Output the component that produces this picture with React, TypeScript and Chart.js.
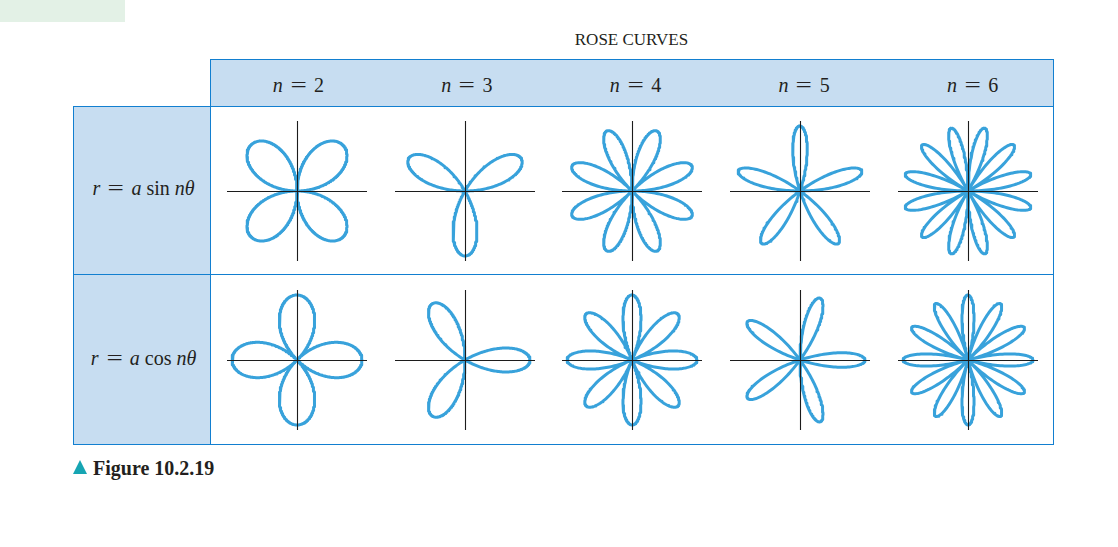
import React, { useEffect, useRef } from "react";
import { Chart, registerables } from "chart.js";

Chart.register(...registerables);

// ---- data ----
const title = "ROSE CURVES";
const nValues = [2, 3, 4, 5, 6];
const trigFunctions = ["sin", "cos"];
const amplitude = 1;
const samplesPerCurve = 900;
const caption = "Figure 10.2.19";

// ---- style / layout ----
const BORDER = "#127fd0";
const FILL = "#c7ddf1";
const CURVE = "#38a2db";
const AXIS = "#1c1c1c";
const SERIF = "'Liberation Serif', 'Times New Roman', serif";
const TABLE_LEFT = 73;
const COL_LEFT = 210;
const TABLE_RIGHT = 1053;
const HEADER_TOP = 59;
const ROW_TOPS = [106, 274];
const TABLE_BOTTOM = 444;
const COL_W = (TABLE_RIGHT - COL_LEFT) / nValues.length;
const AXIS_CX = [297, 464.5, 632, 800, 968];
const AXIS_CY = [191, 359.5];
const HALF = 70;
const EXTENT = 1.077;

function roseData(fn: string, n: number) {
  const pts: { x: number; y: number }[] = [];
  for (let i = 0; i <= samplesPerCurve; i++) {
    const t = (2 * Math.PI * i) / samplesPerCurve;
    const r = amplitude * (fn === "sin" ? Math.sin(n * t) : Math.cos(n * t));
    pts.push({ x: r * Math.cos(t), y: r * Math.sin(t) });
  }
  return pts;
}

const crossAxes = {
  id: "crossAxes",
  afterDatasetsDraw(chart: any) {
    const { ctx, chartArea, scales } = chart;
    const x0 = Math.round(scales.x.getPixelForValue(0)) + 0.5;
    const y0 = Math.round(scales.y.getPixelForValue(0)) + 0.5;
    ctx.save();
    ctx.strokeStyle = AXIS;
    ctx.lineWidth = 1.1;
    ctx.beginPath();
    ctx.moveTo(chartArea.left, y0);
    ctx.lineTo(chartArea.right, y0);
    ctx.moveTo(x0, chartArea.top);
    ctx.lineTo(x0, chartArea.bottom);
    ctx.stroke();
    ctx.restore();
  },
};

function RoseCell({ fn, n, cx, cy }: { fn: string; n: number; cx: number; cy: number }) {
  const ref = useRef<HTMLCanvasElement | null>(null);
  useEffect(() => {
    if (!ref.current) return;
    const chart = new Chart(ref.current, {
      type: "scatter",
      data: {
        datasets: [
          {
            data: roseData(fn, n),
            showLine: true,
            borderColor: CURVE,
            borderWidth: 3,
            pointRadius: 0,
            tension: 0,
            fill: false,
            borderJoinStyle: "round",
            borderCapStyle: "round",
          } as any,
        ],
      },
      options: {
        animation: false,
        responsive: false,
        devicePixelRatio: 1,
        events: [],
        layout: { padding: 0 },
        plugins: { legend: { display: false }, tooltip: { enabled: false }, title: { display: false } },
        scales: {
          x: { type: "linear", min: -EXTENT, max: EXTENT, display: false },
          y: { type: "linear", min: -EXTENT, max: EXTENT, display: false },
        },
      },
      plugins: [crossAxes],
    });
    return () => chart.destroy();
  }, [fn, n]);
  return (
    <canvas
      ref={ref}
      width={HALF * 2}
      height={HALF * 2}
      style={{ position: "absolute", left: cx - HALF, top: cy - HALF, width: HALF * 2, height: HALF * 2 }}
    />
  );
}

function Line({ x, y, w, h }: { x: number; y: number; w: number; h: number }) {
  return <div style={{ position: "absolute", left: x, top: y, width: w, height: h, background: BORDER }} />;
}

function Eq() {
  return (
    <span style={{ display: "inline-block", transform: "scaleX(1.45)", margin: "0 10px 0 10px" }}>=</span>
  );
}

export default function App() {
  const text = (extra: React.CSSProperties): React.CSSProperties => ({
    position: "absolute",
    fontFamily: SERIF,
    lineHeight: 1,
    color: "#231f20",
    whiteSpace: "nowrap",
    ...extra,
  });
  return (
    <div style={{ position: "absolute", left: 0, top: 0, width: 1118, height: 547, background: "#fff", overflow: "hidden" }}>
      <div style={{ position: "absolute", left: 0, top: 0, width: 125, height: 22, background: "#e3f1e6" }} />
      <div style={text({ left: 0, width: 1263, top: 31, fontSize: 17, textAlign: "center" })}>{title}</div>

      {/* fills */}
      <div style={{ position: "absolute", left: COL_LEFT, top: HEADER_TOP, width: TABLE_RIGHT - COL_LEFT, height: ROW_TOPS[0] - HEADER_TOP, background: FILL }} />
      <div style={{ position: "absolute", left: TABLE_LEFT, top: ROW_TOPS[0], width: COL_LEFT - TABLE_LEFT, height: TABLE_BOTTOM - ROW_TOPS[0], background: FILL }} />

      {/* borders */}
      <Line x={COL_LEFT} y={HEADER_TOP} w={TABLE_RIGHT - COL_LEFT + 1} h={1} />
      {ROW_TOPS.map((y) => (
        <Line key={y} x={TABLE_LEFT} y={y} w={TABLE_RIGHT - TABLE_LEFT + 1} h={1} />
      ))}
      <Line x={TABLE_LEFT} y={TABLE_BOTTOM} w={TABLE_RIGHT - TABLE_LEFT + 1} h={1} />
      <Line x={TABLE_LEFT} y={ROW_TOPS[0]} w={1} h={TABLE_BOTTOM - ROW_TOPS[0] + 1} />
      <Line x={COL_LEFT} y={HEADER_TOP} w={1} h={TABLE_BOTTOM - HEADER_TOP + 1} />
      <Line x={TABLE_RIGHT} y={HEADER_TOP} w={1} h={TABLE_BOTTOM - HEADER_TOP + 1} />

      {/* header labels */}
      {nValues.map((n, i) => (
        <div key={n} style={text({ left: COL_LEFT + COL_W * i, width: COL_W, top: 75, fontSize: 20, textAlign: "center", paddingLeft: 4 })}>
          <i>n</i>
          <Eq />
          {n}
        </div>
      ))}

      {/* row labels */}
      {trigFunctions.map((fn, r) => (
        <div key={fn} style={text({ left: TABLE_LEFT, width: COL_LEFT - TABLE_LEFT, top: r === 0 ? 177.5 : 347.5, fontSize: 20, textAlign: "center", paddingLeft: 2 })}>
          <i>r</i>
          <Eq />
          <i>a</i> {fn} <i>nθ</i>
        </div>
      ))}

      {/* rose curves */}
      {trigFunctions.map((fn, r) =>
        nValues.map((n, i) => <RoseCell key={fn + n} fn={fn} n={n} cx={AXIS_CX[i]} cy={AXIS_CY[r]} />)
      )}

      {/* caption */}
      <div
        style={{
          position: "absolute",
          left: 73,
          top: 460,
          width: 0,
          height: 0,
          borderLeft: "7px solid transparent",
          borderRight: "7px solid transparent",
          borderBottom: "14px solid #16a5b3",
        }}
      />
      <div style={text({ left: 93, top: 458, fontSize: 20, fontWeight: "bold" })}>{caption}</div>
    </div>
  );
}
